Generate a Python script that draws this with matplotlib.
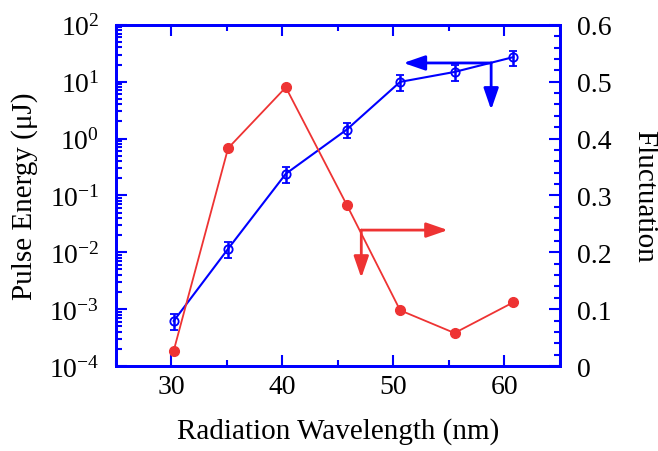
import matplotlib
matplotlib.use("Agg")
import matplotlib.pyplot as plt
from matplotlib.ticker import MultipleLocator, LogLocator, NullFormatter, FixedLocator

plt.rcParams['font.family'] = ['Liberation Serif', 'DejaVu Serif']
plt.rcParams['mathtext.fontset'] = 'custom'
plt.rcParams['mathtext.rm'] = 'Liberation Serif'
plt.rcParams['mathtext.it'] = 'Liberation Serif:italic'
plt.rcParams['axes.unicode_minus'] = False

# data
wavelength = [30.2, 35.1, 40.3, 45.8, 50.6, 55.5, 60.8]   # nm
pulse_energy = [6.2e-4, 0.0115, 0.24, 1.44, 9.9, 14.8, 27.0]  # uJ
energy_err = [0.3 * e for e in pulse_energy]
fluctuation = [0.027, 0.383, 0.49, 0.283, 0.098, 0.058, 0.112]

# arrow corners / tips (data coords)
blue_corner = (58.8, 21.3)
blue_left_tip = (50.9, 21.3)
blue_down_tip = (58.8, 3.2)
red_corner = (47.1, 0.239)
red_right_tip = (54.9, 0.239)
red_down_tip = (47.1, 0.155)

blue = "#0000ff"
red = "#ee3333"

fig = plt.figure(figsize=(6.58, 4.52), dpi=100)
ax = fig.add_axes([0.1763, 0.188, 0.851 - 0.1763, 0.943 - 0.188])
ax2 = ax.twinx()

ax.errorbar(wavelength, pulse_energy, yerr=energy_err, color=blue, lw=1.5,
            marker="o", ms=6, mfc="none", mec=blue, mew=1.3,
            elinewidth=1.8, capsize=3, capthick=1.8)
ax.set_yscale("log")
ax.set_ylim(1e-4, 1e2)
ax.set_xlim(25, 65)

ax2.plot(wavelength, fluctuation, color=red, lw=1.3, marker="o", ms=7)
ax2.set_ylim(0, 0.6)

arrow_kw = dict(arrowstyle="-|>,head_length=1.3,head_width=0.45", lw=2,
                shrinkA=0, shrinkB=0)
ax.annotate("", xy=blue_left_tip, xytext=blue_corner,
            arrowprops=dict(color=blue, **arrow_kw))
ax.annotate("", xy=blue_down_tip, xytext=blue_corner,
            arrowprops=dict(color=blue, **arrow_kw))
ax2.annotate("", xy=red_right_tip, xytext=red_corner,
             arrowprops=dict(color=red, **arrow_kw))
ax2.annotate("", xy=red_down_tip, xytext=red_corner,
             arrowprops=dict(color=red, **arrow_kw))

ax.xaxis.set_major_locator(FixedLocator([30, 40, 50, 60]))
ax.xaxis.set_minor_locator(MultipleLocator(5))
ax.yaxis.set_major_locator(LogLocator(base=10, numticks=10))
ax.yaxis.set_minor_locator(LogLocator(base=10, subs=range(2, 10), numticks=10))
ax.yaxis.set_minor_formatter(NullFormatter())
ax2.yaxis.set_minor_locator(MultipleLocator(0.02))
ax2.set_yticks([0, 0.1, 0.2, 0.3, 0.4, 0.5, 0.6])
ax2.set_yticklabels(["0", "0.1", "0.2", "0.3", "0.4", "0.5", "0.6"])

ax.tick_params(which="both", direction="in", color=blue, width=1.5,
               top=True, right=False, labelsize=20)
ax.tick_params(which="major", length=8)
ax.tick_params(which="minor", length=4.5)
ax.tick_params(axis="y", pad=12)
ax.tick_params(axis="x", pad=6)
ax2.tick_params(which="both", direction="in", color=blue, width=1.5,
                labelsize=20, pad=12)
ax2.tick_params(which="major", length=8)
ax2.tick_params(which="minor", length=4.5)

for a in (ax, ax2):
    for s in a.spines.values():
        s.set_color(blue)
        s.set_linewidth(2)

ax.set_xlabel("Radiation Wavelength (nm)", fontsize=21, labelpad=13)
ax.set_ylabel("Pulse Energy (μJ)", fontsize=21, labelpad=8)
ax2.set_ylabel("Fluctuation", fontsize=21, rotation=270, labelpad=33)

fig.savefig("out.png", dpi=100)
